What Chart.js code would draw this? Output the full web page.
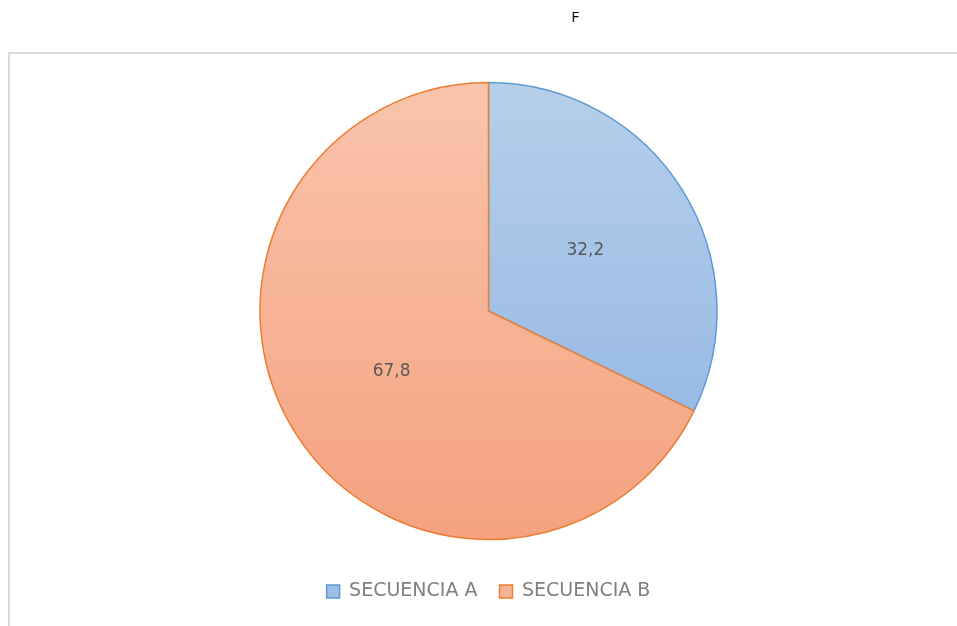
<!DOCTYPE html>
<html>
<head>
<meta charset="utf-8">
<script src="https://cdn.jsdelivr.net/npm/chart.js@4/dist/chart.umd.min.js"></script>
<style>
  html, body { margin: 0; padding: 0; background: #fff; }
  body { width: 957px; height: 626px; position: relative; overflow: hidden; font-family: 'Open Sans', sans-serif; }
  #title { position: absolute; left: 555px; top: 6px; width: 40px; text-align: center; font-size: 15px; color: #000; }
  #frame { position: absolute; left: 8px; top: 52px; width: 949px; height: 574px;
           border-left: 2px solid #d9d9d9; border-top: 2px solid #d9d9d9; box-sizing: border-box; }
  #frame canvas { display: block; }
</style>
</head>
<body>
<div id="title">F</div>
<div id="frame"><canvas id="pieChart" width="947" height="572"></canvas></div>
<script>
const labels = ['SECUENCIA A', 'SECUENCIA B'];
const values = [32.2, 67.8];
const fillTop = ['#b6cfea', '#f9c4ad'];
const fillBottom = ['#8db3e2', '#f4a27f'];
const edgeColors = ['#5b9bd5', '#ed7d31'];
const PIE_RADIUS = 228.5;

// vertical gradient per slice, spanning the whole pie
function sliceFill(context) {
    const chart = context.chart;
    const area = chart.chartArea;
    if (!area || !isFinite(area.top) || area.bottom <= area.top) return fillBottom[context.dataIndex];
    const cy = (area.top + area.bottom) / 2;
    const g = chart.ctx.createLinearGradient(0, cy - PIE_RADIUS, 0, cy + PIE_RADIUS);
    g.addColorStop(0, fillTop[context.dataIndex]);
    g.addColorStop(1, fillBottom[context.dataIndex]);
    return g;
}

// value labels inside the slices, with comma decimals
const sliceLabels = {
    id: 'sliceLabels',
    afterDatasetsDraw(chart) {
        const ctx = chart.ctx;
        const meta = chart.getDatasetMeta(0);
        ctx.save();
        ctx.font = '17px "DejaVu Sans", sans-serif';
        ctx.fillStyle = '#595959';
        ctx.textAlign = 'center';
        ctx.textBaseline = 'middle';
        meta.data.forEach((arc, i) => {
            const pos = arc.tooltipPosition();
            ctx.fillText(values[i].toFixed(1).replace('.', ','), pos.x, pos.y);
        });
        ctx.restore();
    }
};

new Chart(document.getElementById('pieChart'), {
    type: 'pie',
    data: {
        labels: labels,
        datasets: [{
            data: values,
            backgroundColor: sliceFill,
            borderColor: edgeColors,
            borderWidth: 1.5,
            radius: PIE_RADIUS,
            hoverOffset: 0
        }]
    },
    options: {
        responsive: false,
        animation: false,
        layout: { padding: { top: 8, bottom: 15, left: 10, right: 0 } },
        plugins: {
            tooltip: { enabled: false },
            legend: {
                position: 'bottom',
                labels: {
                    boxWidth: 13,
                    boxHeight: 13,
                    padding: 22,
                    color: '#7f7f7f',
                    font: { family: 'DejaVu Sans', size: 19 },
                    generateLabels(chart) {
                        return labels.map((text, i) => ({
                            text: text,
                            fillStyle: i === 0 ? '#9dbfe6' : '#f6b497',
                            strokeStyle: edgeColors[i],
                            lineWidth: 1.5,
                            fontColor: '#7f7f7f',
                            index: i
                        }));
                    }
                }
            }
        }
    },
    plugins: [sliceLabels]
});
</script>
</body>
</html>
